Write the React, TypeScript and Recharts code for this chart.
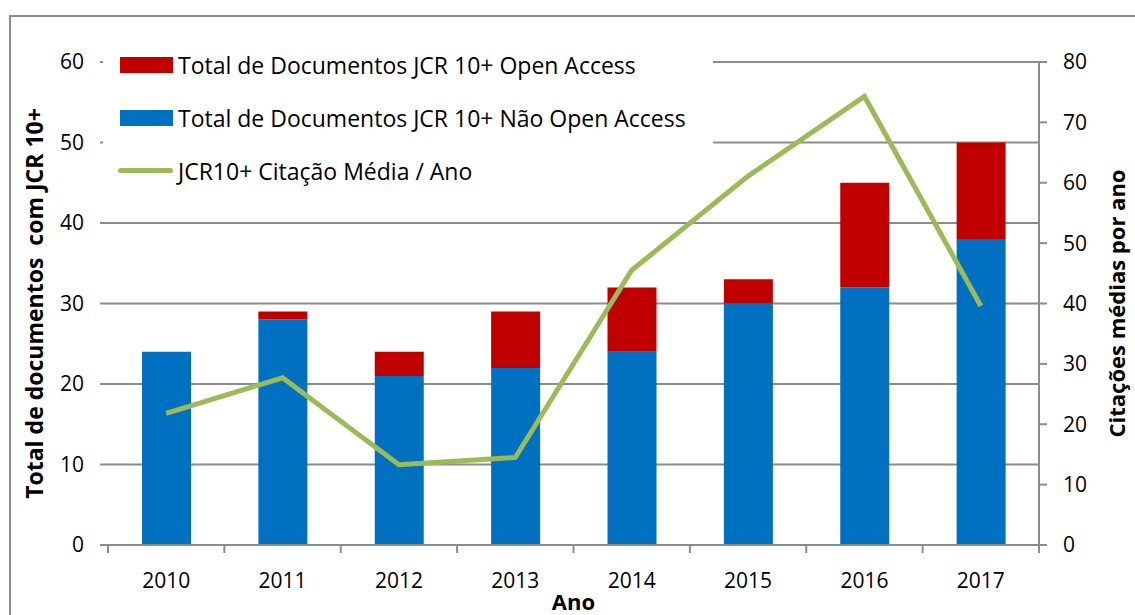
import React from "react";
import {
  Bar,
  CartesianGrid,
  ComposedChart,
  Legend,
  Line,
  XAxis,
  YAxis,
} from "recharts";

const years = ["2010", "2011", "2012", "2013", "2014", "2015", "2016", "2017"];
const naoOpenAccess = [24, 28, 21, 22, 24, 30, 32, 38];
const openAccess = [0, 1, 3, 7, 8, 3, 13, 12];
const citacaoMedia = [21.8, 27.7, 13.3, 14.5, 45.5, 61.1, 74.3, 39.6];

const leftTicks = [0, 10, 20, 30, 40, 50, 60];
const rightTicks = [0, 10, 20, 30, 40, 50, 60, 70, 80];

const NAME_OA = "Total de Documentos JCR 10+ Open Access";
const NAME_NAO = "Total de Documentos JCR 10+ Não Open Access";
const NAME_CIT = "JCR10+ Citação Média / Ano";
const legendOrder = [NAME_OA, NAME_NAO, NAME_CIT];

const data = years.map((ano, i) => ({
  ano,
  nao: naoOpenAccess[i],
  oa: openAccess[i],
  cit: citacaoMedia[i],
}));

const W = 1135;
const H = 615;
const LEFT_W = 108;
const RIGHT_W = 96;
const STEP = (W - LEFT_W - RIGHT_W) / years.length;
const GREY = "#8c8c8c";
const FONT = "'Open Sans', 'Noto Sans', sans-serif";

function YearTick(props: any) {
  const { x, y, payload, index } = props;
  return (
    <g>
      <line x1={x - STEP / 2} x2={x - STEP / 2} y1={y} y2={y + 8} stroke={GREY} strokeWidth={2} />
      {index === years.length - 1 && (
        <line x1={x + STEP / 2} x2={x + STEP / 2} y1={y} y2={y + 8} stroke={GREY} strokeWidth={2} />
      )}
      <text x={x} y={y + 43} textAnchor="middle" fontSize={21} fill="#000" fontFamily={FONT}>
        {payload.value}
      </text>
    </g>
  );
}

function LegendBox(props: any) {
  const items = [...(props.payload || [])].sort(
    (a: any, b: any) => legendOrder.indexOf(a.value) - legendOrder.indexOf(b.value)
  );
  return (
    <div style={{ background: "#fff", width: 610, height: 162 }}>
      {items.map((it: any) => (
        <div key={it.value} style={{ display: "flex", alignItems: "center", height: 53 }}>
          {it.type === "line" ? (
            <div style={{ width: 55, height: 5, borderRadius: 3, background: it.color, marginLeft: 15 }} />
          ) : (
            <div style={{ width: 53, height: 16, background: it.color, marginLeft: 17 }} />
          )}
          <span style={{ fontSize: 23, marginLeft: 5, color: "#000", fontFamily: FONT, whiteSpace: "nowrap" }}>{it.value}</span>
        </div>
      ))}
    </div>
  );
}

const titleStyle = {
  textAnchor: "middle",
  fontSize: 23,
  fontWeight: 700,
  fill: "#000",
  fontFamily: FONT,
} as any;

export default function App() {
  return (
    <div style={{ position: "absolute", left: 0, top: 0, width: W, height: H, background: "#fff", fontFamily: FONT, overflow: "hidden" }}>
      <div style={{ position: "absolute", left: 9, top: 15, width: W, height: H, borderLeft: `2px solid ${GREY}`, borderTop: `2px solid ${GREY}` }} />
      <ComposedChart
        width={W}
        height={H}
        data={data}
        margin={{ top: 62, right: 0, bottom: 40, left: 0 }}
        style={{ position: "absolute", left: 0, top: 0 }}
      >
        <CartesianGrid yAxisId="left" vertical={false} stroke={GREY} strokeWidth={2} />
        <XAxis
          dataKey="ano"
          height={30}
          axisLine={{ stroke: GREY, strokeWidth: 2 }}
          tickLine={false}
          tickSize={0}
          tickMargin={0}
          tick={<YearTick />}
          interval={0}
          label={{ value: "Ano", position: "bottom", offset: 19, style: { ...titleStyle, fontSize: 22 } }}
        />
        <YAxis
          yAxisId="left"
          width={LEFT_W}
          domain={[0, 60]}
          ticks={leftTicks}
          axisLine={false}
          tickLine={{ stroke: GREY, strokeWidth: 2 }}
          tickSize={8}
          tickMargin={16}
          tick={{ fontSize: 21, fill: "#000", fontFamily: FONT }}
          label={{ value: "Total de documentos\u00A0 com JCR 10+", angle: -90, position: "insideLeft", offset: 35, style: titleStyle }}
        />
        <YAxis
          yAxisId="right"
          orientation="right"
          width={RIGHT_W}
          domain={[0, 80]}
          ticks={rightTicks}
          axisLine={{ stroke: GREY, strokeWidth: 2 }}
          tickLine={{ stroke: GREY, strokeWidth: 2 }}
          tickSize={8}
          tickMargin={16}
          tick={{ fontSize: 21, fill: "#000", fontFamily: FONT }}
          label={{ value: "Citações médias por ano", angle: -90, position: "insideRight", offset: 18, style: { ...titleStyle, fontSize: 22 } }}
        />
        <Legend
          layout="vertical"
          align="center"
          verticalAlign="middle"
          content={<LegendBox />}
          wrapperStyle={{ position: "absolute", left: 103, top: 38, width: 610, height: 162 }}
        />
        <Bar yAxisId="left" dataKey="nao" stackId="a" name={NAME_NAO} fill="#0070C0" barSize={49} isAnimationActive={false} />
        <Bar yAxisId="left" dataKey="oa" stackId="a" name={NAME_OA} fill="#C00000" barSize={49} isAnimationActive={false} />
        <Line yAxisId="right" dataKey="cit" name={NAME_CIT} type="linear" stroke="#9BBB59" strokeWidth={5} dot={false} legendType="line" isAnimationActive={false} />
      </ComposedChart>
    </div>
  );
}
